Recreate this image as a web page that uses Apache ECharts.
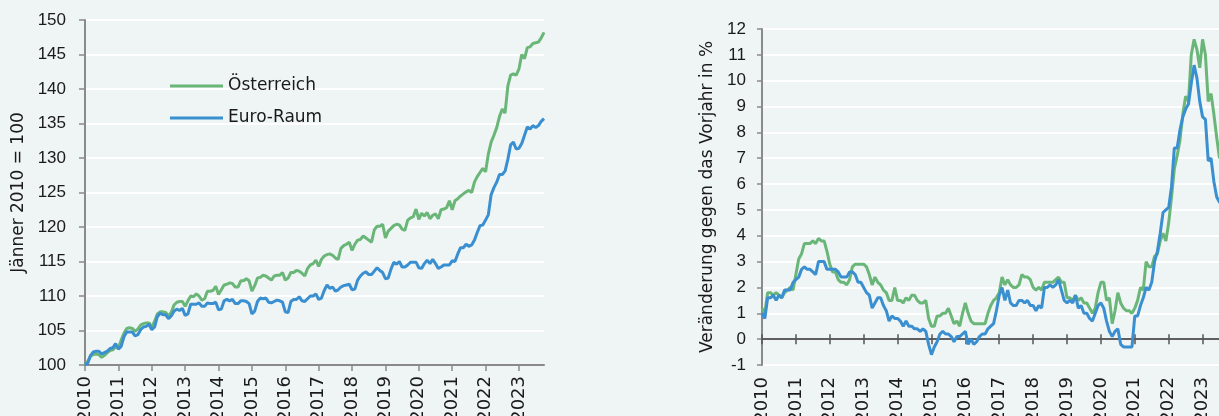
<!DOCTYPE html>
<html><head><meta charset="utf-8">
<script src="https://cdn.jsdelivr.net/npm/echarts@6/dist/echarts.min.js"></script>
<style>html,body{margin:0;padding:0;background:#eff4f4;overflow:hidden}#c{width:1219px;height:416px}</style>
</head><body><div id="c"></div><script>
// ---- data ----
const years = ['2010','2011','2012','2013','2014','2015','2016','2017','2018','2019','2020','2021','2022','2023'];
const monthsInLastYear = 10; // Jan 2010 .. Oct 2023
const seriesNames = ['Österreich', 'Euro-Raum'];
const leftAxisName = 'Jänner 2010 = 100';
const rightAxisName = 'Veränderung gegen das Vorjahr in %';

// Index, Jänner 2010 = 100 (monthly)
const indexAT = [
  100.0, 100.5, 101.3, 101.5, 101.6, 101.5, 101.1, 101.4, 101.8, 102.1, 102.2, 102.6,
  102.5, 103.6, 104.6, 105.3, 105.4, 105.3, 104.9, 105.2, 105.8, 106.0, 106.1, 106.1,
  105.5, 106.3, 107.4, 107.7, 107.7, 107.6, 107.1, 107.6, 108.7, 109.1, 109.2, 109.2,
  108.5, 109.3, 110.0, 109.9, 110.3, 110.0, 109.4, 109.6, 110.7, 110.7, 110.8, 111.4,
  110.2, 110.9, 111.6, 111.7, 111.9, 111.8, 111.3, 111.3, 112.2, 112.2, 112.5, 112.2,
  110.7, 111.5, 112.6, 112.7, 113.0, 112.9, 112.6, 112.3, 112.9, 113.0, 113.0, 113.4,
  112.3, 112.6, 113.4, 113.4, 113.7, 113.6, 113.3, 112.9, 114.0, 114.5, 114.7, 115.2,
  114.3, 115.3, 115.8, 116.0, 116.1, 115.9, 115.5, 115.3, 116.9, 117.3, 117.5, 117.8,
  116.6, 117.5, 118.1, 118.2, 118.7, 118.4, 118.1, 117.8, 119.6, 120.1, 120.1, 120.4,
  118.4, 119.4, 119.8, 120.2, 120.4, 120.3, 119.7, 119.5, 121.0, 121.3, 121.5, 122.6,
  121.1, 122.0, 121.6, 122.1, 121.2, 121.7, 121.9, 121.2, 122.5, 122.6, 122.8, 123.8,
  122.5, 123.8, 124.1, 124.5, 124.8, 125.1, 125.3, 125.0, 126.5, 127.3, 127.9, 128.5,
  128.0, 130.6, 132.3, 133.3, 134.4, 136.0, 137.1, 136.5, 140.4, 142.0, 142.2, 142.0,
  142.9, 145.0, 144.4, 146.0, 146.1, 146.6, 146.7, 146.8, 147.4, 148.2
];
const indexEA = [
  100.0, 100.3, 101.4, 101.9, 102.0, 102.0, 101.6, 101.8, 102.0, 102.4, 102.5, 103.1,
  102.3, 102.7, 104.1, 104.8, 104.8, 104.8, 104.2, 104.4, 105.1, 105.5, 105.6, 105.9,
  105.1, 105.5, 107.0, 107.5, 107.3, 107.3, 106.7, 107.1, 107.8, 108.1, 107.9, 108.2,
  107.2, 107.4, 108.8, 108.8, 108.8, 109.0, 108.5, 108.5, 109.0, 108.9, 108.9, 109.1,
  108.0, 108.1, 109.3, 109.5, 109.3, 109.5, 108.9, 108.9, 109.3, 109.3, 109.2, 108.9,
  107.4, 107.8, 109.2, 109.7, 109.6, 109.7, 109.1, 109.0, 109.2, 109.4, 109.3, 109.1,
  107.7, 107.6, 109.2, 109.5, 109.5, 109.9, 109.3, 109.2, 109.6, 110.0, 110.0, 110.3,
  109.5, 109.7, 110.8, 111.6, 111.1, 111.3, 110.7, 110.9, 111.3, 111.5, 111.6, 111.7,
  110.9, 111.0, 112.3, 112.9, 113.3, 113.5, 113.1, 113.1, 113.6, 114.1, 113.7, 113.4,
  112.5, 112.6, 113.9, 114.9, 114.6, 115.0, 114.2, 114.2, 114.5, 114.9, 114.9, 114.9,
  114.1, 114.0, 114.7, 115.2, 114.7, 115.3, 114.7, 114.0, 114.2, 114.5, 114.5, 114.5,
  115.1, 115.0, 116.1, 117.0, 117.0, 117.5, 117.2, 117.4, 118.1, 119.2, 120.2, 120.3,
  121.0, 121.8, 124.7, 125.7, 126.5, 127.6, 127.6, 128.1, 129.8, 131.9, 132.3, 131.3,
  131.4, 132.1, 133.3, 134.5, 134.2, 134.7, 134.4, 134.7, 135.3, 135.7
];
// Veränderung gegen das Vorjahr in % (monthly)
const rateAT = [
  1.2, 1.0, 1.8, 1.8, 1.7, 1.8, 1.7, 1.6, 1.8, 1.9, 2.0, 1.9,
  2.5, 3.1, 3.3, 3.7, 3.7, 3.7, 3.8, 3.7, 3.9, 3.8, 3.8, 3.4,
  2.9, 2.6, 2.6, 2.3, 2.2, 2.2, 2.1, 2.3, 2.8, 2.9, 2.9, 2.9,
  2.9, 2.8, 2.5, 2.1, 2.4, 2.2, 2.1, 1.9, 1.8, 1.5, 1.5, 2.0,
  1.5, 1.5, 1.4, 1.6, 1.5, 1.7, 1.7, 1.5, 1.4, 1.4, 1.5, 0.8,
  0.5, 0.5, 0.9, 0.9, 1.0, 1.0, 1.2, 0.9, 0.6, 0.7, 0.5, 1.0,
  1.4, 1.0, 0.7, 0.6, 0.6, 0.6, 0.6, 0.6, 1.0, 1.3, 1.5, 1.6,
  1.8, 2.4, 2.1, 2.3, 2.1, 2.0, 2.0, 2.1, 2.5, 2.4, 2.4, 2.3,
  2.0, 1.9, 2.0, 1.9, 2.2, 2.2, 2.2, 2.2, 2.3, 2.4, 2.2, 2.2,
  1.6, 1.6, 1.5, 1.7, 1.5, 1.6, 1.4, 1.4, 1.2, 1.0, 1.2, 1.8,
  2.2, 2.2, 1.5, 1.6, 0.6, 1.1, 1.8, 1.4, 1.2, 1.1, 1.1, 1.0,
  1.2, 1.5, 2.0, 1.9, 3.0, 2.8, 2.8, 3.2, 3.3, 3.8, 4.1, 3.8,
  4.5, 5.5, 6.6, 7.1, 7.7, 8.7, 9.4, 9.2, 11.0, 11.6, 11.2, 10.5,
  11.6, 11.0, 9.2, 9.5, 8.7, 7.8, 7.0, 7.5, 5.7, 4.9
];
const rateEA = [
  1.0, 0.8, 1.6, 1.6, 1.7, 1.5, 1.7, 1.6, 1.9, 1.9, 1.9, 2.2,
  2.3, 2.4, 2.7, 2.8, 2.7, 2.7, 2.6, 2.5, 3.0, 3.0, 3.0, 2.7,
  2.7, 2.7, 2.7, 2.6, 2.4, 2.4, 2.4, 2.6, 2.6, 2.5, 2.2, 2.2,
  2.0, 1.8, 1.7, 1.2, 1.4, 1.6, 1.6, 1.3, 1.1, 0.7, 0.9, 0.8,
  0.8, 0.7, 0.5, 0.7, 0.5, 0.5, 0.4, 0.4, 0.3, 0.4, 0.3, -0.2,
  -0.6, -0.3, -0.1, 0.2, 0.3, 0.2, 0.2, 0.1, -0.1, 0.1, 0.1, 0.2,
  0.3, -0.2, 0.0, -0.2, -0.1, 0.1, 0.2, 0.2, 0.4, 0.5, 0.6, 1.1,
  1.7, 2.0, 1.5, 1.9, 1.4, 1.3, 1.3, 1.5, 1.5, 1.4, 1.5, 1.3,
  1.3, 1.1, 1.3, 1.2, 2.0, 2.0, 2.1, 2.0, 2.1, 2.3, 1.9, 1.5,
  1.4, 1.5, 1.4, 1.7, 1.2, 1.3, 1.0, 1.0, 0.8, 0.7, 1.0, 1.3,
  1.4, 1.2, 0.7, 0.3, 0.1, 0.3, 0.4, -0.2, -0.3, -0.3, -0.3, -0.3,
  0.9, 0.9, 1.3, 1.6, 2.0, 1.9, 2.2, 3.0, 3.4, 4.1, 4.9, 5.0,
  5.1, 5.9, 7.4, 7.4, 8.1, 8.6, 8.9, 9.1, 9.9, 10.6, 10.1, 9.2,
  8.6, 8.5, 6.9, 7.0, 6.1, 5.5, 5.3, 5.2, 4.3, 2.9
];

// ---- categories (one per month) ----
const cats = [];
years.forEach((y, yi) => {
  const n = yi === years.length - 1 ? monthsInLastYear : 12;
  for (let m = 1; m <= n; m++) cats.push(y + '-' + (m < 10 ? '0' + m : m));
});

// ---- styling ----
const NUM_FONT = 'Liberation Sans';
const TXT_FONT = 'DejaVu Sans';
const TXT_COLOR = '#1a1a1a';
const GREEN = '#6ab678';
const BLUE = '#3a8fd0';
const AXIS_GRAY = '#8a8a8a';
const ZERO_GRAY = '#555555';
const isJan = (i) => i % 12 === 0;
const yearLabel = (v) => v.slice(0, 4);

const chart = echarts.init(document.getElementById('c'), null, {renderer: 'canvas'});
const option = {
  backgroundColor: '#eff4f4',
  animation: false,
  grid: [
    {left: 85, top: 20, width: 459, height: 345, outerBoundsMode: 'none', containLabel: false},
    {left: 762, top: 29, width: 466, height: 336, outerBoundsMode: 'none', containLabel: false}
  ],
  legend: {
    orient: 'vertical', left: 170, top: 77, padding: 0,
    icon: 'rect', itemWidth: 53, itemHeight: 3, itemGap: 14,
    data: seriesNames,
    textStyle: {fontFamily: TXT_FONT, fontSize: 17, lineHeight: 18, color: TXT_COLOR}
  },
  xAxis: [
    {
      gridIndex: 0, type: 'category', data: cats, boundaryGap: false,
      axisLine: {onZero: false, lineStyle: {color: AXIS_GRAY, width: 2}},
      axisTick: {interval: isJan, length: 6, lineStyle: {color: AXIS_GRAY, width: 1.5}},
      axisLabel: {interval: isJan, rotate: 90, margin: 11, formatter: yearLabel,
        fontFamily: TXT_FONT, fontSize: 18, color: TXT_COLOR},
      splitLine: {show: false}
    },
    {
      gridIndex: 1, type: 'category', data: cats, boundaryGap: false, position: 'bottom',
      axisLine: {onZero: true, onZeroAxisIndex: 1, lineStyle: {color: ZERO_GRAY, width: 1.5}},
      axisTick: {interval: isJan, length: 5, lineStyle: {color: ZERO_GRAY, width: 1.5}},
      axisLabel: {interval: isJan, rotate: 90, margin: 12, formatter: yearLabel,
        fontFamily: TXT_FONT, fontSize: 18, color: TXT_COLOR},
      splitLine: {show: false}
    },
    {
      gridIndex: 1, type: 'category', data: cats, boundaryGap: false, position: 'top',
      axisLine: {onZero: true, onZeroAxisIndex: 2, lineStyle: {color: ZERO_GRAY, width: 1.5}},
      axisTick: {interval: isJan, length: 5, lineStyle: {color: ZERO_GRAY, width: 1.5}},
      axisLabel: {show: false},
      splitLine: {show: false}
    }
  ],
  yAxis: [
    {
      gridIndex: 0, type: 'value', min: 100, max: 150, interval: 5,
      name: leftAxisName, nameLocation: 'middle', nameGap: 58,
      nameTextStyle: {fontFamily: TXT_FONT, fontSize: 17, color: TXT_COLOR},
      axisLine: {show: true, lineStyle: {color: AXIS_GRAY, width: 2}},
      axisTick: {show: true, length: 6, lineStyle: {color: AXIS_GRAY, width: 1.5}},
      axisLabel: {margin: 19, fontFamily: NUM_FONT, fontSize: 17, color: TXT_COLOR},
      splitLine: {lineStyle: {color: '#ffffff', width: 2}}
    },
    {
      gridIndex: 1, type: 'value', min: -1, max: 12, interval: 1,
      name: rightAxisName, nameLocation: 'middle', nameGap: 46,
      nameTextStyle: {fontFamily: TXT_FONT, fontSize: 17, color: TXT_COLOR},
      axisLine: {show: true, onZero: false, lineStyle: {color: AXIS_GRAY, width: 2}},
      axisTick: {show: true, length: 5, lineStyle: {color: AXIS_GRAY, width: 1.5}},
      axisLabel: {margin: 16, fontFamily: NUM_FONT, fontSize: 17, color: TXT_COLOR},
      splitLine: {lineStyle: {color: '#ffffff', width: 2}}
    },
    {
      gridIndex: 1, type: 'value', min: -1, max: 12, interval: 1, position: 'right',
      axisLine: {show: false, onZero: false}, axisTick: {show: false},
      axisLabel: {show: false}, splitLine: {show: false}
    }
  ],
  series: [
    {name: seriesNames[0], type: 'line', xAxisIndex: 0, yAxisIndex: 0, data: indexAT,
      symbol: 'none', lineStyle: {color: GREEN, width: 3}, itemStyle: {color: GREEN}},
    {name: seriesNames[1], type: 'line', xAxisIndex: 0, yAxisIndex: 0, data: indexEA,
      symbol: 'none', lineStyle: {color: BLUE, width: 3}, itemStyle: {color: BLUE}},
    {name: seriesNames[0] + ' (r)', type: 'line', xAxisIndex: 1, yAxisIndex: 1, data: rateAT,
      symbol: 'none', lineStyle: {color: GREEN, width: 3}, itemStyle: {color: GREEN}},
    {name: seriesNames[1] + ' (r)', type: 'line', xAxisIndex: 1, yAxisIndex: 1, data: rateEA,
      symbol: 'none', lineStyle: {color: BLUE, width: 3}, itemStyle: {color: BLUE}}
  ]
};
chart.setOption(option);
</script></body></html>
